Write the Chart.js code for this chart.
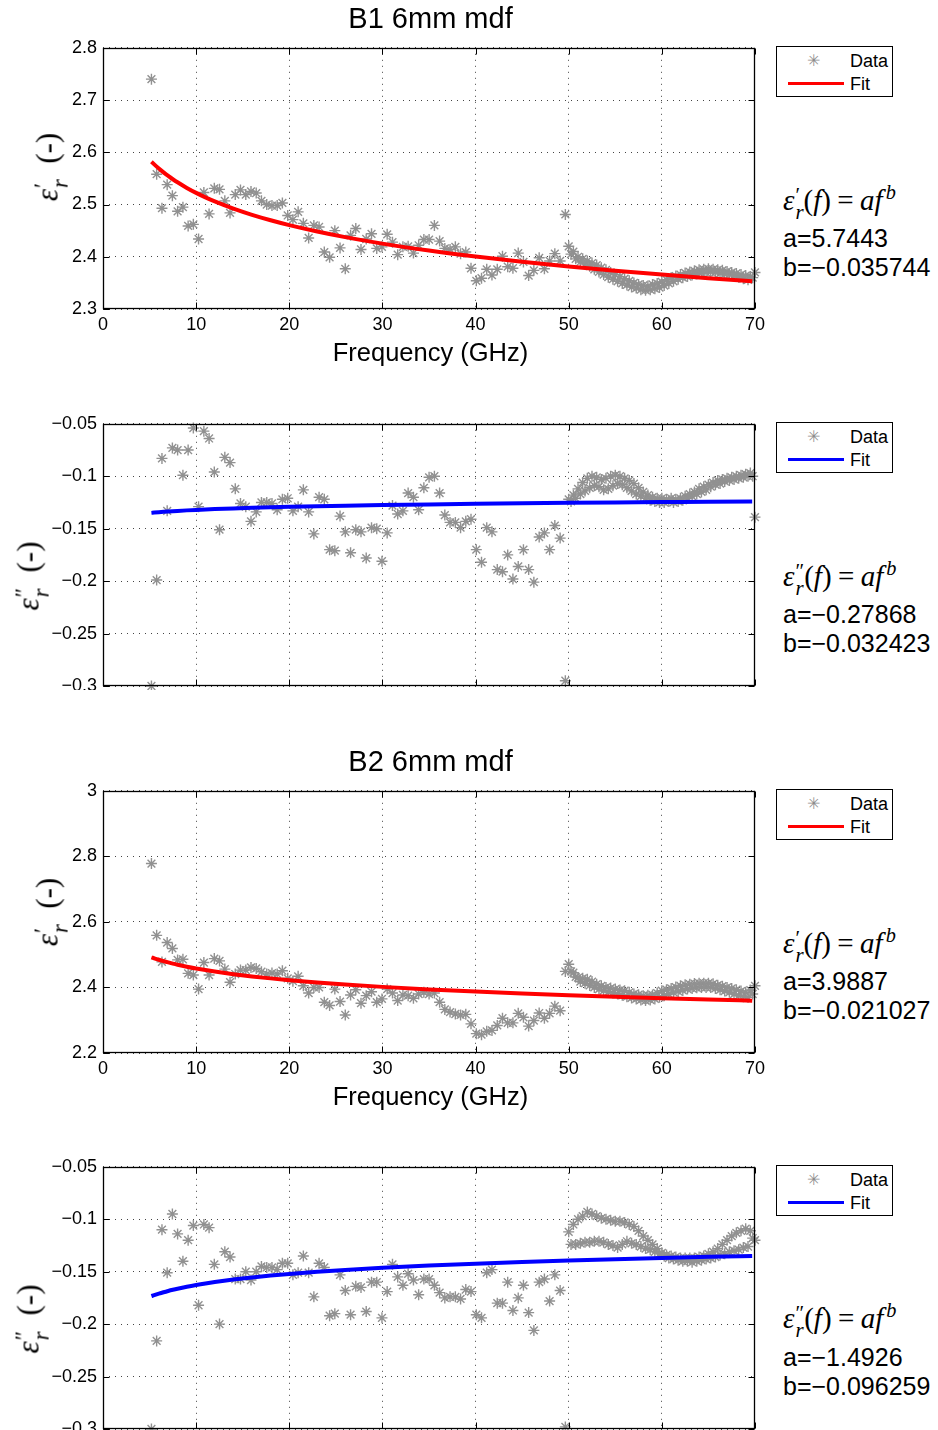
<!DOCTYPE html>
<html>
<head>
<meta charset="utf-8">
<script src="https://cdn.jsdelivr.net/npm/chart.js@4/dist/chart.umd.min.js"></script>
<style>
    body {
        margin: 0;
        width: 938px;
        height: 1430px;
        background: #fff;
        position: relative;
        overflow: hidden;
        font-family: "Liberation Sans", Arial, sans-serif;
        color: #000;
    }
    .panel { position: absolute; left: 0; width: 770px; overflow: hidden; }
    .panel canvas { position: absolute; left: 0; }
    .txt { position: absolute; white-space: nowrap; }
    .title, .xlabel { left: 103px; width: 655px; text-align: center; }
    .title { font-size: 29px; line-height: 32px; }
    .xlabel { font-size: 25.5px; line-height: 30px; }
    .ylabel {
        font-family: "Liberation Serif", "DejaVu Serif", serif;
        font-size: 31px;
        line-height: 34px;
        transform: translate(-50%, -50%) rotate(-90deg);
    }
    .mi { font-style: italic; font-family: "Liberation Serif", "DejaVu Serif", serif; }
    .ss {
        display: inline-block;
        vertical-align: -0.45em;
        font-size: 0.72em;
        line-height: 0.8;
        text-align: left;
        margin-left: 1px;
    }
    .ss span { display: block; }
    .eq { margin: 0 0.22em; font-style: normal; }
    .pw { font-size: 0.7em; margin-left: 3px; }
    .legend {
        position: absolute;
        left: 776px;
        width: 115px;
        height: 49px;
        border: 1px solid #000;
        background: #fff;
    }
    .legend .star { position: absolute; left: 30px; top: 4px; font-family: "DejaVu Sans"; font-size: 16px; color: #8c8c8c; }
    .legend .lab { position: absolute; left: 73px; font-size: 18px; line-height: 20px; }
    .legend .line { position: absolute; left: 11px; width: 56px; height: 3px; top: 35px; }
    .formula { left: 783px; font-family: "Liberation Serif", "DejaVu Serif", serif; font-size: 29px; line-height: 32px; }
    .coef { left: 783px; font-size: 25px; line-height: 29px; }
</style>
</head>
<body>

<script>
// frequency grid in GHz: coarse sweep below 50 GHz, fine sweep 50-70 GHz
const coarseFreq = [
    5.20, 5.76, 6.33, 6.89, 7.45, 8.01, 8.58, 9.14, 9.70, 10.26,
    10.83, 11.39, 11.95, 12.51, 13.08, 13.64, 14.20, 14.76, 15.33, 15.89,
    16.45, 17.01, 17.58, 18.14, 18.70, 19.26, 19.83, 20.39, 20.95, 21.51,
    22.08, 22.64, 23.20, 23.76, 24.33, 24.89, 25.45, 26.01, 26.58, 27.14,
    27.70, 28.26, 28.83, 29.39, 29.95, 30.51, 31.08, 31.64, 32.20, 32.76,
    33.33, 33.89, 34.45, 35.01, 35.58, 36.14, 36.70, 37.26, 37.83, 38.39,
    38.95, 39.51, 40.08, 40.64, 41.20, 41.76, 42.33, 42.89, 43.45, 44.01,
    44.58, 45.14, 45.70, 46.26, 46.83, 47.39, 47.95, 48.51, 49.08, 49.64
];

const fineFreq = [
    50.00, 50.25, 50.50, 50.75, 51.00, 51.25, 51.50, 51.75, 52.00, 52.25,
    52.50, 52.75, 53.00, 53.25, 53.50, 53.75, 54.00, 54.25, 54.50, 54.75,
    55.00, 55.25, 55.50, 55.75, 56.00, 56.25, 56.50, 56.75, 57.00, 57.25,
    57.50, 57.75, 58.00, 58.25, 58.50, 58.75, 59.00, 59.25, 59.50, 59.75,
    60.00, 60.25, 60.50, 60.75, 61.00, 61.25, 61.50, 61.75, 62.00, 62.25,
    62.50, 62.75, 63.00, 63.25, 63.50, 63.75, 64.00, 64.25, 64.50, 64.75,
    65.00, 65.25, 65.50, 65.75, 66.00, 66.25, 66.50, 66.75, 67.00, 67.25,
    67.50, 67.75, 68.00, 68.25, 68.50, 68.75, 69.00, 69.25, 69.50, 69.75,
    70.00
];

// frequencies where the power-law fits are evaluated
const fitFreq = [5.2, 5.5, 6, 6.5, 7, 7.5, 8, 9, 10, 11, 12, 14, 16, 18, 20,
    23, 26, 30, 35, 40, 45, 50, 55, 60, 65, 69.7];

// B1 real part
const b1RealCoarse = [
    2.740, 2.558, 2.493, 2.538, 2.517, 2.487, 2.495, 2.459, 2.462, 2.434,
    2.523, 2.482, 2.531, 2.529, 2.507, 2.484, 2.519, 2.528, 2.519, 2.525,
    2.522, 2.507, 2.500, 2.498, 2.498, 2.503, 2.479, 2.471, 2.486, 2.464,
    2.436, 2.460, 2.457, 2.409, 2.399, 2.450, 2.417, 2.377, 2.441, 2.454,
    2.414, 2.434, 2.444, 2.416, 2.419, 2.443, 2.428, 2.404, 2.419, 2.420,
    2.407, 2.422, 2.433, 2.433, 2.460, 2.430, 2.416, 2.414, 2.419, 2.406,
    2.409, 2.378, 2.354, 2.359, 2.376, 2.365, 2.376, 2.401, 2.381, 2.378,
    2.407, 2.390, 2.364, 2.374, 2.398, 2.377, 2.392, 2.406, 2.392, 2.481
];
const b1RealFine = [
    2.420, 2.405, 2.410, 2.396, 2.400, 2.390, 2.396, 2.386, 2.392, 2.382,
    2.388, 2.376, 2.384, 2.371, 2.379, 2.366, 2.375, 2.361, 2.370, 2.357,
    2.366, 2.353, 2.362, 2.349, 2.358, 2.346, 2.354, 2.342, 2.350, 2.340,
    2.347, 2.337, 2.345, 2.336, 2.344, 2.337, 2.347, 2.339, 2.349, 2.341,
    2.352, 2.345, 2.356, 2.349, 2.360, 2.353, 2.363, 2.357, 2.366, 2.360,
    2.369, 2.362, 2.371, 2.365, 2.373, 2.367, 2.375, 2.369, 2.376, 2.370,
    2.377, 2.371, 2.376, 2.370, 2.375, 2.368, 2.374, 2.367, 2.372, 2.366,
    2.370, 2.364, 2.368, 2.361, 2.366, 2.358, 2.364, 2.356, 2.362, 2.360,
    2.370
];
const b1RealFit = [5.7443, -0.035744];

// B1 imaginary part
const b1ImagCoarse = [
    -0.300, -0.199, -0.083, -0.133, -0.073, -0.075, -0.099, -0.075, -0.054, -0.129,
    -0.057, -0.064, -0.096, -0.151, -0.082, -0.087, -0.112, -0.126, -0.129, -0.143,
    -0.134, -0.125, -0.125, -0.126, -0.132, -0.122, -0.121, -0.133, -0.129, -0.113,
    -0.134, -0.155, -0.120, -0.122, -0.170, -0.171, -0.138, -0.153, -0.173, -0.151,
    -0.153, -0.178, -0.149, -0.150, -0.181, -0.154, -0.128, -0.136, -0.133, -0.116,
    -0.120, -0.132, -0.111, -0.101, -0.100, -0.116, -0.137, -0.144, -0.144, -0.149,
    -0.143, -0.141, -0.170, -0.182, -0.149, -0.153, -0.189, -0.191, -0.175, -0.198,
    -0.186, -0.170, -0.189, -0.201, -0.158, -0.154, -0.170, -0.147, -0.159, -0.295
];
const b1ImagFine = [
    -0.122, -0.124, -0.118, -0.121, -0.112, -0.117, -0.106, -0.114, -0.102, -0.111,
    -0.100, -0.109, -0.101, -0.110, -0.103, -0.113, -0.102, -0.112, -0.100, -0.109,
    -0.099, -0.107, -0.100, -0.108, -0.102, -0.111, -0.104, -0.114, -0.107, -0.117,
    -0.111, -0.119, -0.115, -0.121, -0.118, -0.123, -0.120, -0.124, -0.121, -0.125,
    -0.121, -0.125, -0.122, -0.124, -0.121, -0.125, -0.122, -0.124, -0.121, -0.123,
    -0.119, -0.121, -0.117, -0.119, -0.115, -0.117, -0.112, -0.115, -0.110, -0.113,
    -0.108, -0.110, -0.106, -0.108, -0.104, -0.107, -0.103, -0.105, -0.102, -0.104,
    -0.101, -0.103, -0.100, -0.102, -0.099, -0.101, -0.098, -0.100, -0.097, -0.100,
    -0.139
];
const b1ImagFit = [-0.27868, -0.032423];

// B2 real part
const b2RealCoarse = [
    2.778, 2.559, 2.478, 2.537, 2.519, 2.484, 2.486, 2.443, 2.438, 2.395,
    2.476, 2.438, 2.488, 2.481, 2.456, 2.416, 2.441, 2.453, 2.453, 2.461,
    2.458, 2.448, 2.441, 2.444, 2.441, 2.451, 2.428, 2.419, 2.434, 2.405,
    2.383, 2.400, 2.400, 2.355, 2.345, 2.395, 2.357, 2.316, 2.377, 2.393,
    2.352, 2.375, 2.387, 2.355, 2.365, 2.395, 2.383, 2.360, 2.377, 2.375,
    2.367, 2.380, 2.385, 2.380, 2.383, 2.355, 2.333, 2.325, 2.319, 2.316,
    2.318, 2.289, 2.259, 2.256, 2.266, 2.269, 2.284, 2.306, 2.292, 2.292,
    2.321, 2.309, 2.282, 2.299, 2.322, 2.306, 2.321, 2.343, 2.329, 2.449
];
const b2RealFine = [
    2.471, 2.449, 2.445, 2.432, 2.430, 2.418, 2.428, 2.413, 2.425, 2.406,
    2.418, 2.400, 2.410, 2.395, 2.405, 2.390, 2.400, 2.386, 2.398, 2.383,
    2.395, 2.380, 2.392, 2.376, 2.390, 2.372, 2.385, 2.368, 2.380, 2.365,
    2.378, 2.362, 2.375, 2.360, 2.376, 2.362, 2.377, 2.365, 2.383, 2.370,
    2.390, 2.375, 2.393, 2.380, 2.397, 2.385, 2.401, 2.388, 2.405, 2.391,
    2.408, 2.395, 2.410, 2.397, 2.412, 2.399, 2.413, 2.400, 2.413, 2.400,
    2.413, 2.400, 2.411, 2.397, 2.407, 2.393, 2.404, 2.389, 2.400, 2.385,
    2.397, 2.380, 2.393, 2.375, 2.389, 2.372, 2.385, 2.370, 2.392, 2.380,
    2.405
];
const b2RealFit = [3.9887, -0.021027];

// B2 imaginary part
const b2ImagCoarse = [
    -0.300, -0.216, -0.110, -0.151, -0.095, -0.114, -0.140, -0.120, -0.106, -0.182,
    -0.105, -0.108, -0.143, -0.200, -0.131, -0.136, -0.157, -0.157, -0.150, -0.158,
    -0.150, -0.145, -0.146, -0.146, -0.148, -0.142, -0.142, -0.153, -0.151, -0.135,
    -0.151, -0.174, -0.142, -0.146, -0.192, -0.190, -0.153, -0.168, -0.191, -0.164,
    -0.165, -0.188, -0.160, -0.160, -0.194, -0.169, -0.143, -0.155, -0.163, -0.152,
    -0.158, -0.172, -0.157, -0.157, -0.163, -0.170, -0.175, -0.174, -0.174, -0.176,
    -0.167, -0.169, -0.191, -0.194, -0.151, -0.148, -0.180, -0.180, -0.160, -0.187,
    -0.175, -0.163, -0.189, -0.206, -0.160, -0.157, -0.178, -0.153, -0.168, -0.298
];
const b2ImagFine = [
    -0.112, -0.124, -0.105, -0.124, -0.100, -0.123, -0.097, -0.122, -0.093, -0.122,
    -0.095, -0.121, -0.097, -0.121, -0.099, -0.122, -0.100, -0.124, -0.101, -0.125,
    -0.102, -0.127, -0.102, -0.124, -0.103, -0.121, -0.105, -0.123, -0.107, -0.124,
    -0.111, -0.126, -0.116, -0.128, -0.120, -0.129, -0.124, -0.131, -0.128, -0.133,
    -0.132, -0.135, -0.134, -0.137, -0.135, -0.138, -0.136, -0.139, -0.137, -0.140,
    -0.137, -0.140, -0.137, -0.141, -0.137, -0.140, -0.136, -0.139, -0.135, -0.138,
    -0.133, -0.137, -0.131, -0.136, -0.128, -0.134, -0.124, -0.133, -0.120, -0.131,
    -0.116, -0.130, -0.113, -0.129, -0.111, -0.127, -0.109, -0.126, -0.111, -0.118,
    -0.120
];
const b2ImagFit = [-1.4926, -0.096259];

// axis ticks
const freqTicks = [0, 10, 20, 30, 40, 50, 60, 70];
const b1RealTicks = [2.3, 2.4, 2.5, 2.6, 2.7, 2.8];
const b2RealTicks = [2.2, 2.4, 2.6, 2.8, 3];
const imagTicks = [-0.3, -0.25, -0.2, -0.15, -0.1, -0.05];

const PAD_TOP = 15;
const X_AXIS_H = 45;

// black box round the plot with MATLAB-style inward tick marks
const axesBox = {
    id: "axesBox",
    afterDraw(chart) {
        const { ctx, chartArea: a, scales } = chart;
        const left = Math.round(a.left) + 0.5;
        const right = Math.round(a.right) - 0.5;
        const top = Math.round(a.top) + 0.5;
        const bottom = Math.round(a.bottom) - 0.5;
        ctx.save();
        ctx.strokeStyle = "#000";
        ctx.lineWidth = 1;
        ctx.beginPath();
        scales.x.ticks.forEach(t => {
            const px = Math.round(scales.x.getPixelForValue(t.value)) + 0.5;
            ctx.moveTo(px, bottom); ctx.lineTo(px, bottom - 6);
            ctx.moveTo(px, top); ctx.lineTo(px, top + 6);
        });
        scales.y.ticks.forEach(t => {
            const py = Math.round(scales.y.getPixelForValue(t.value)) + 0.5;
            ctx.moveTo(left, py); ctx.lineTo(left + 6, py);
            ctx.moveTo(right, py); ctx.lineTo(right - 6, py);
        });
        ctx.stroke();
        ctx.lineWidth = 1.3;
        ctx.strokeRect(left, top, right - left, bottom - top);
        ctx.restore();
    }
};

function tickText(v) {
    return String(v).replace("-", "\u2212");
}

function addText(cls, html, top, left) {
    const el = document.createElement("div");
    el.className = "txt " + cls;
    el.innerHTML = html;
    el.style.top = top + "px";
    if (left !== undefined) el.style.left = left + "px";
    document.body.appendChild(el);
    return el;
}

function makePanel(p) {
    const wrap = document.createElement("div");
    wrap.className = "panel";
    const canvasTop = p.plotTop - PAD_TOP;
    const canvasH = PAD_TOP + p.plotH + X_AXIS_H;
    wrap.style.top = canvasTop + "px";
    wrap.style.height = (p.clipAt ? p.clipAt - canvasTop : canvasH) + "px";
    const canvas = document.createElement("canvas");
    canvas.width = 770;
    canvas.height = canvasH;
    canvas.style.width = "770px";
    canvas.style.height = canvasH + "px";
    wrap.appendChild(canvas);
    document.body.appendChild(wrap);

    const points = coarseFreq.map((f, i) => ({ x: f, y: p.coarse[i] }))
        .concat(fineFreq.map((f, i) => ({ x: f, y: p.fine[i] })));
    const fit = fitFreq.map(f => ({ x: f, y: p.fit[0] * Math.pow(f * 1e9, p.fit[1]) }));

    new Chart(canvas.getContext("2d"), {
        type: "scatter",
        data: {
            datasets: [
                {
                    label: "Data",
                    data: points,
                    order: 2,
                    pointStyle: "star",
                    pointRadius: 5.5,
                    borderWidth: 1.4,
                    borderColor: "rgb(145,145,145)",
                    backgroundColor: "rgb(145,145,145)",
                    clip: false
                },
                {
                    label: "Fit",
                    data: fit,
                    order: 1,
                    showLine: true,
                    pointRadius: 0,
                    borderColor: p.color,
                    borderWidth: 4,
                    cubicInterpolationMode: "monotone"
                }
            ]
        },
        options: {
            responsive: false,
            devicePixelRatio: 1,
            animation: false,
            events: [],
            layout: { padding: { top: PAD_TOP, right: 12, bottom: 0, left: 0 } },
            plugins: { legend: { display: false }, tooltip: { enabled: false } },
            scales: {
                x: {
                    type: "linear",
                    min: 0,
                    max: 70,
                    afterFit: s => { s.height = X_AXIS_H; },
                    afterBuildTicks: s => { s.ticks = freqTicks.map(v => ({ value: v })); },
                    ticks: {
                        autoSkip: false,
                        maxRotation: 0,
                        padding: 5,
                        color: "#000",
                        font: { family: "Liberation Sans", size: 18 },
                        callback: v => tickText(v)
                    },
                    grid: { color: "#444", lineWidth: 1, drawTicks: false },
                    border: { display: false, dash: [1, 5] }
                },
                y: {
                    type: "linear",
                    min: p.ticks[0],
                    max: p.ticks[p.ticks.length - 1],
                    afterFit: s => { s.width = 103; },
                    afterBuildTicks: s => { s.ticks = p.ticks.map(v => ({ value: v })); },
                    ticks: {
                        autoSkip: false,
                        padding: 6,
                        color: "#000",
                        font: { family: "Liberation Sans", size: 18 },
                        callback: v => tickText(v)
                    },
                    grid: { color: "#444", lineWidth: 1, drawTicks: false },
                    border: { display: false, dash: [1, 5] }
                }
            }
        },
        plugins: [axesBox]
    });

    // legend
    const lg = document.createElement("div");
    lg.className = "legend";
    lg.style.top = p.plotTop + "px";
    lg.innerHTML =
        '<span class="star">\u2733</span><span class="lab" style="top:4px">Data</span>' +
        '<span class="line" style="background:' + p.color + '"></span><span class="lab" style="top:27px">Fit</span>';
    document.body.appendChild(lg);

    // fitted model and its coefficients
    const mark = p.imag ? "\u2033" : "\u2032";
    const eps = '<span class="mi">\u03b5</span><span class="ss"><span>' + mark +
        '</span><span class="mi">r</span></span>';
    addText("formula", eps + '(<span class="mi">f</span>)<span class="eq">=</span><span class="mi">af</span><sup class="mi pw">b</sup>', p.formulaY - 18);
    addText("coef", "a=" + tickText(p.fit[0]), p.aY - 14.5);
    addText("coef", "b=" + tickText(p.fit[1]), p.aY + 14.5);

    // axis label
    addText("ylabel", eps + "&nbsp;&nbsp;(-)", p.ylabelY, p.ylabelX);

    if (p.title) addText("title", p.title, p.plotTop - 44);
    if (p.xlabel) addText("xlabel", "Frequency (GHz)", p.plotTop + p.plotH + 28);
}

makePanel({ plotTop: 46, plotH: 263, coarse: b1RealCoarse, fine: b1RealFine, fit: b1RealFit,
    ticks: b1RealTicks, color: "#ff0000", title: "B1 6mm mdf", xlabel: true,
    formulaY: 194, aY: 238, ylabelX: 50, ylabelY: 167 });
makePanel({ plotTop: 422, plotH: 264, coarse: b1ImagCoarse, fine: b1ImagFine, fit: b1ImagFit,
    ticks: imagTicks, color: "#0000ff", imag: true, clipAt: 690,
    formulaY: 570, aY: 614, ylabelX: 31, ylabelY: 576 });
makePanel({ plotTop: 789, plotH: 264, coarse: b2RealCoarse, fine: b2RealFine, fit: b2RealFit,
    ticks: b2RealTicks, color: "#ff0000", title: "B2 6mm mdf", xlabel: true,
    formulaY: 937, aY: 981, ylabelX: 50, ylabelY: 912 });
makePanel({ plotTop: 1165, plotH: 264, coarse: b2ImagCoarse, fine: b2ImagFine, fit: b2ImagFit,
    ticks: imagTicks, color: "#0000ff", imag: true,
    formulaY: 1312, aY: 1357, ylabelX: 31, ylabelY: 1319 });
</script>
</body>
</html>
